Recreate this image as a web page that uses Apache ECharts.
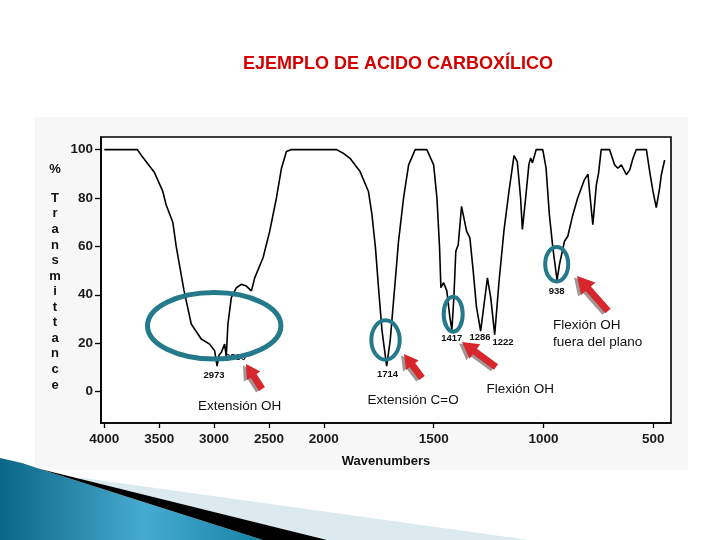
<!DOCTYPE html>
<html><head><meta charset="utf-8">
<script src="https://cdn.jsdelivr.net/npm/echarts@6/dist/echarts.min.js"></script>
<style>html,body{margin:0;padding:0;background:#fff}#c{width:720px;height:540px}</style>
</head><body><div id="c"></div>
<script>
// ---- data ----
const wavenumbers = [4000,3700,3665,3543,3467,3437,3376,3345,3275,3208,3117,3041,2995,2973,2955,2934,2904,2889,2874,2843,2797,2752,2706,2660,2630,2554,2493,2432,2386,2341,2295,
  1942,1912,1881,1835,1797,1781,1765,1750,1735,1714,1698,1675,1660,1637,1614,1584,1531,1500,1485,1473,1467,1455,1440,1426,1417,1408,1399,1388,1373,1350,1335,1320,1305,1286,
  1255,1240,1222,1202,1180,1157,1134,1119,1104,1096,1081,1066,1058,1050,1033,1003,988,973,957,938,927,904,889,866,844,813,797,790,775,759,749,737,699,676,661,645,622,607,592,577,531,516,501,486,471,463,448];
const transmittance = [100,100,97.8,90.5,82.7,77.2,70,60,42,27.9,21.7,19.6,16.9,10.5,15,16.2,19.6,14.5,27.9,38.8,42.9,44.3,43.6,41.6,47,55.3,66.3,80,92.3,99.2,100,
  100,98.5,96.4,90.9,82.7,73.1,59.4,41.6,25.1,10.5,21,45.7,62.1,80,93.7,100,100,93.7,80,59.4,42.9,45,41.6,30.6,25.5,38.8,58,60.7,76.5,66.3,63.5,50,35,25,
  47,38.8,23.5,45.7,66.3,82.7,97.5,95,80,67,80,94,96.5,94.5,100,100,92.3,73.1,59.4,46,52.5,62.1,64.2,73.1,80,87.6,89.8,82.7,69,85.4,90.2,100,100,93.7,92.3,93.7,89.6,91.6,96.4,100,100,90.9,82.7,76,84,89.6,95.7];
const xTickWavenumbers = [4000,3500,3000,2500,2000,1500,1000,500];
const yTickValues = [0,20,40,60,80,100];
const peakLabels = ['2973','2880','1714','1417','1286','1222','938'];
const annotationTexts = ['Extensión OH','Extensión C=O','Flexión OH','Flexión OH\nfuera del plano'];
const titleText = 'EJEMPLO DE ACIDO CARBOXÍLICO';
const xName = 'Wavenumbers';
const yNameTop = '%';
const yNameMain = 'Transmittance';

// IR spectra use a doubled scale below 2000 cm-1: map wavenumber -> axis position
function pos(w){ return w >= 2000 ? (4000 - w) / 2 : 1000 + (2000 - w); }
function inv(p){ return p <= 1000 ? 4000 - 2 * p : 2000 - (p - 1000); }

const seriesData = wavenumbers.map((w, i) => [pos(w), transmittance[i]]);

const FONT = 'Liberation Sans, Arial, sans-serif';

function arrowPts(tx, ty, bx, by, hl, hw, sw){
  const dx = tx - bx, dy = ty - by, L = Math.hypot(dx, dy);
  const ux = dx / L, uy = dy / L, nx = -uy, ny = ux;
  const hx = tx - ux * hl, hy = ty - uy * hl;
  return [[tx,ty],[hx+nx*hw/2,hy+ny*hw/2],[hx+nx*sw/2,hy+ny*sw/2],[bx+nx*sw/2,by+ny*sw/2],
          [bx-nx*sw/2,by-ny*sw/2],[hx-nx*sw/2,hy-ny*sw/2],[hx-nx*hw/2,hy-ny*hw/2]];
}
function arrow(tx, ty, bx, by, hl, hw, sw){
  const shadow = arrowPts(tx, ty, bx, by, hl, hw, sw).map(p => [p[0]-3, p[1]+1.5]);
  return [
    {type:'polygon', z:100, shape:{points: shadow}, style:{fill:'rgba(130,115,115,0.75)'}},
    {type:'polygon', z:101, shape:{points: arrowPts(tx, ty, bx, by, hl, hw, sw)}, style:{fill:'#d8262d'}}
  ];
}
const TEAL = '#24798a';
function ell(cx, cy, rx, ry, w){
  return {type:'ellipse', z:102, shape:{cx, cy, rx, ry}, style:{fill:null, stroke:TEAL, lineWidth:w}};
}
function txt(x, y, s, size, weight, align, z){
  return {type:'text', z: z || 103, x, y, style:{text:s, font: (weight||'normal') + ' ' + size + 'px ' + FONT, fill:'#111', align: align||'left', verticalAlign:'middle'}};
}

const graphics = [
  // scanned-image background
  {type:'rect', z:-20, shape:{x:35, y:117, width:653, height:353}, style:{fill:'#f7f7f7'}},
  {type:'rect', z:-19, shape:{x:101, y:137, width:570, height:286}, style:{fill:'#ffffff'}},
  // slide decoration bottom-left
  {type:'polygon', z:-5, shape:{points:[[80,477.5],[529,540],[327,540],[80,479.7]]}, style:{fill:'#dce9ef'}},
  {type:'polygon', z:-4, shape:{points:[[0,458],[22,463],[43,470],[263,540],[0,540]]},
    style:{fill:{type:'linear', x:0, y:0, x2:1, y2:0, colorStops:[{offset:0,color:'#0b6685'},{offset:0.55,color:'#46abd0'},{offset:1,color:'#1681a7'}]}}},
  {type:'polygon', z:-3, shape:{points:[[38,468.5],[327,540],[263,540],[43,470]]}, style:{fill:'#000'}},
  // y-axis name (stacked letters)
  txt(55, 169, yNameTop, 13, 'bold', 'center'),
  {type:'text', z:103, x:55, y:190.5, style:{text: yNameMain.split('').join('\n'), font:'bold 13px ' + FONT, lineHeight:15.56, fill:'#111', align:'center', verticalAlign:'top'}},
  // x-axis name
  txt(386, 461.5, xName, 13, 'bold', 'center'),
  // peak labels (drawn below the ellipses)
  txt(214, 375, peakLabels[0], 9.5, 'bold', 'center', 99),
  txt(225, 357.5, peakLabels[1], 9.5, 'bold', 'left', 99),
  txt(387.5, 374.5, peakLabels[2], 9.5, 'bold', 'center', 99),
  txt(451.7, 338.5, peakLabels[3], 9.5, 'bold', 'center', 99),
  txt(480, 337.5, peakLabels[4], 9.5, 'bold', 'center', 99),
  txt(503, 342.5, peakLabels[5], 9.5, 'bold', 'center', 99),
  txt(556.7, 291, peakLabels[6], 9.5, 'bold', 'center', 99),
  // ellipses
  ell(214.2, 325.8, 66.7, 33.3, 5),
  ell(385.5, 340, 14.2, 19.7, 4),
  ell(453.2, 314.2, 9.5, 17.5, 4),
  ell(556.7, 264.2, 11.5, 17.3, 4),
  // arrows
  ...arrow(246, 364, 262, 389, 14, 16, 7),
  ...arrow(404, 354, 422, 378, 14, 16, 7),
  ...arrow(462, 342, 496, 367, 16, 18, 7),
  ...arrow(577, 276, 608, 311, 17, 19, 7),
  // annotation texts
  txt(198, 406, annotationTexts[0], 13.5, 'normal', 'left'),
  txt(367.5, 400.5, annotationTexts[1], 13.5, 'normal', 'left'),
  txt(486.5, 389.5, annotationTexts[2], 13.5, 'normal', 'left'),
  {type:'text', z:103, x:553, y:333.5, style:{text: annotationTexts[3], font:'normal 13.5px ' + FONT, lineHeight:17.3, fill:'#111', align:'left', verticalAlign:'middle'}}
];

const chart = echarts.init(document.getElementById('c'), null, {renderer:'canvas'});
chart.setOption({
  animation: false,
  backgroundColor: '#ffffff',
  title: {text: titleText, left: 238, top: 50, textStyle:{color:'#d40000', fontSize:18, fontWeight:'bold', fontFamily: FONT}},
  grid: {left: 101, right: 49, top: 137, bottom: 117, show: true, borderColor:'#000', borderWidth:1.6, backgroundColor:'transparent'},
  xAxis: {
    type:'value', min:-15, max:2581,
    axisLine:{show:true, onZero:false, lineStyle:{color:'#000', width:1.6}},
    axisTick:{show:true, inside:false, length:5, customValues: xTickWavenumbers.map(pos), lineStyle:{color:'#000', width:1.3}},
    axisLabel:{customValues: xTickWavenumbers.map(pos), formatter: v => String(Math.round(inv(v))), margin:9, color:'#1a1a1a', fontSize:13.5, fontWeight:'bold', fontFamily: FONT},
    splitLine:{show:false}
  },
  yAxis: {
    type:'value', min:-13, max:105.2,
    axisLine:{show:true, onZero:false, lineStyle:{color:'#000', width:1.6}},
    axisTick:{show:true, inside:false, length:6, customValues: yTickValues, lineStyle:{color:'#000', width:1.3}},
    axisLabel:{customValues: yTickValues, margin:8, color:'#1a1a1a', fontSize:13.5, fontWeight:'bold', fontFamily: FONT},
    splitLine:{show:false}
  },
  series: [{
    type:'line', data: seriesData, showSymbol:false, smooth:false,
    lineStyle:{color:'#000', width:1.6}, z:2
  }],
  graphic: graphics
});
</script></body></html>
